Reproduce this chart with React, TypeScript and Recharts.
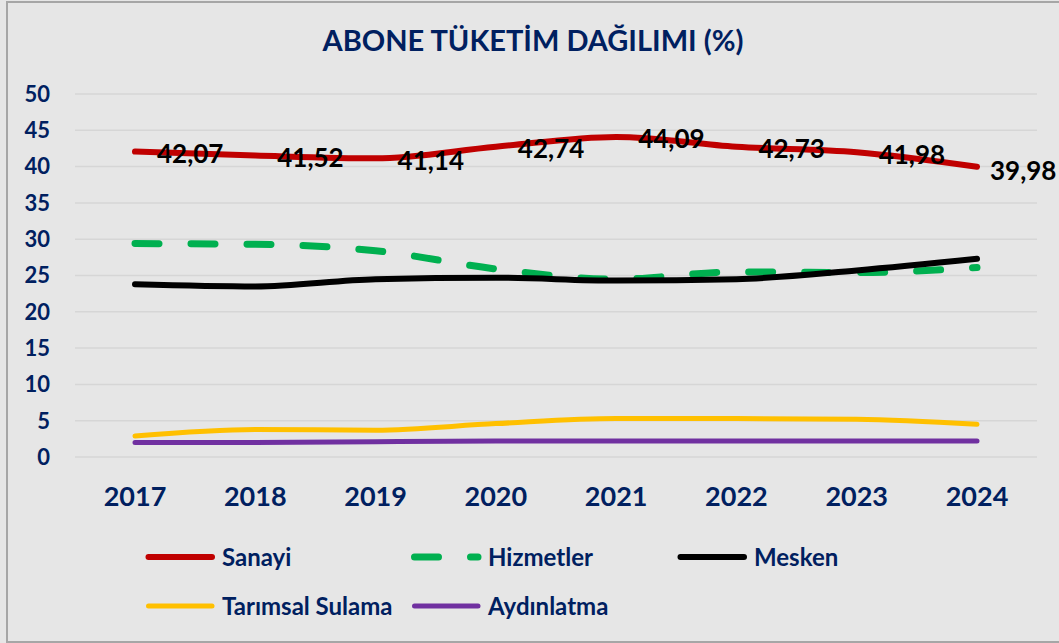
import React from 'react';
import { LineChart, Line, XAxis, YAxis, CartesianGrid, LabelList } from 'recharts';

const years = ['2017', '2018', '2019', '2020', '2021', '2022', '2023', '2024'];
const sanayi = [42.07, 41.52, 41.14, 42.74, 44.09, 42.73, 41.98, 39.98];
const hizmetler = [29.4, 29.3, 28.4, 25.9, 24.5, 25.5, 25.4, 26.1];
const mesken = [23.8, 23.5, 24.5, 24.7, 24.3, 24.5, 25.7, 27.3];
const tarimsalSulama = [2.9, 3.8, 3.7, 4.6, 5.3, 5.3, 5.2, 4.5];
const aydinlatma = [2.0, 2.0, 2.1, 2.2, 2.2, 2.2, 2.2, 2.2];
const yTicks = [0, 5, 10, 15, 20, 25, 30, 35, 40, 45, 50];

const NAVY = '#002060';
const FONT = 'Lato, "Noto Sans", sans-serif';

const series = [
  { key: 'Sanayi', values: sanayi, color: '#c00000', width: 6, dash: undefined as string | undefined },
  { key: 'Hizmetler', values: hizmetler, color: '#00b050', width: 7, dash: '24 32' },
  { key: 'Mesken', values: mesken, color: '#000000', width: 6, dash: undefined },
  { key: 'Tarımsal Sulama', values: tarimsalSulama, color: '#ffc000', width: 5, dash: undefined },
  { key: 'Aydınlatma', values: aydinlatma, color: '#7030a0', width: 5, dash: undefined },
];

const data = years.map((year, i) => {
  const row: Record<string, string | number> = { year };
  series.forEach(s => {
    row[s.key] = s.values[i];
  });
  return row;
});

const formatValue = (v: number) => v.toFixed(2).replace('.', ',');

const SanayiLabel = (props: any) => {
  const { x, y, value, index } = props;
  const last = index === years.length - 1;
  return (
    <text
      x={x + (last ? 13 : 22)}
      y={y + (last ? 4 : 2)}
      dy="0.36em"
      fill="#000"
      fontSize={26}
      fontWeight={700}
      fontFamily={FONT}
    >
      {formatValue(value)}
    </text>
  );
};

// legend drawn by hand, 3 columns like the original
const LegendBox = () => {
  const colX = [145, 411, 677];
  const rowY = [557, 606];
  return (
    <svg width={1059} height={643} style={{ position: 'absolute', left: 0, top: 0, pointerEvents: 'none' }}>
      {series.map((s, i) => {
        const x = colX[i % 3];
        const y = rowY[Math.floor(i / 3)];
        return (
          <g key={s.key}>
            <line
              x1={x + 3.5}
              x2={x + 67}
              y1={y}
              y2={y}
              stroke={s.color}
              strokeWidth={s.width}
              strokeLinecap="round"
              strokeDasharray={s.dash}
            />
            <text x={x + 77} y={y} dy="0.36em" fill={NAVY} fontSize={24} fontWeight={700} fontFamily={FONT}>
              {s.key}
            </text>
          </g>
        );
      })}
    </svg>
  );
};

export default function App() {
  return (
    <div
      style={{
        position: 'absolute',
        left: 0,
        top: 0,
        width: 1059,
        height: 643,
        background: '#e6e6e6',
        overflow: 'hidden',
        fontFamily: FONT,
      }}
    >
      <div
        style={{
          position: 'absolute',
          left: 6,
          top: 1,
          width: 1100,
          height: 638,
          borderLeft: '2px solid #a6a6a6',
          borderTop: '2px solid #a6a6a6',
          borderBottom: '2px solid #a6a6a6',
        }}
      />
      <div
        style={{
          position: 'absolute',
          left: 0,
          top: 22,
          width: 1066,
          textAlign: 'center',
          color: NAVY,
          fontSize: 29,
          fontWeight: 700,
          lineHeight: '36px',
        }}
      >
        ABONE TÜKETİM DAĞILIMI (%)
      </div>
      <div style={{ position: 'absolute', left: 0, top: 0 }}>
        <LineChart width={1059} height={643} data={data} margin={{ top: 94, right: 22, left: 0, bottom: 126 }}>
          <CartesianGrid vertical={false} stroke="#d6d6d6" strokeWidth={1.5} />
          <XAxis
            dataKey="year"
            height={60}
            axisLine={false}
            tickLine={false}
            tickSize={0}
            tickMargin={30}
            padding={{ left: 60, right: 60 }}
            tick={{ fill: NAVY, fontSize: 27, fontWeight: 700, fontFamily: FONT }}
            interval={0}
          />
          <YAxis
            width={75}
            domain={[0, 50]}
            ticks={yTicks}
            axisLine={false}
            tickLine={false}
            tickSize={0}
            tickMargin={25}
            tick={{ fill: NAVY, fontSize: 22, fontWeight: 700, fontFamily: FONT }}
            interval={0}
          />
          {series.map(s => (
            <Line
              key={s.key}
              type="monotone"
              dataKey={s.key}
              stroke={s.color}
              strokeWidth={s.width}
              strokeDasharray={s.dash}
              strokeLinecap="round"
              dot={false}
              activeDot={false}
              isAnimationActive={false}
            >
              {s.key === 'Sanayi' && <LabelList dataKey="Sanayi" content={SanayiLabel} />}
            </Line>
          ))}
        </LineChart>
      </div>
      <LegendBox />
    </div>
  );
}
